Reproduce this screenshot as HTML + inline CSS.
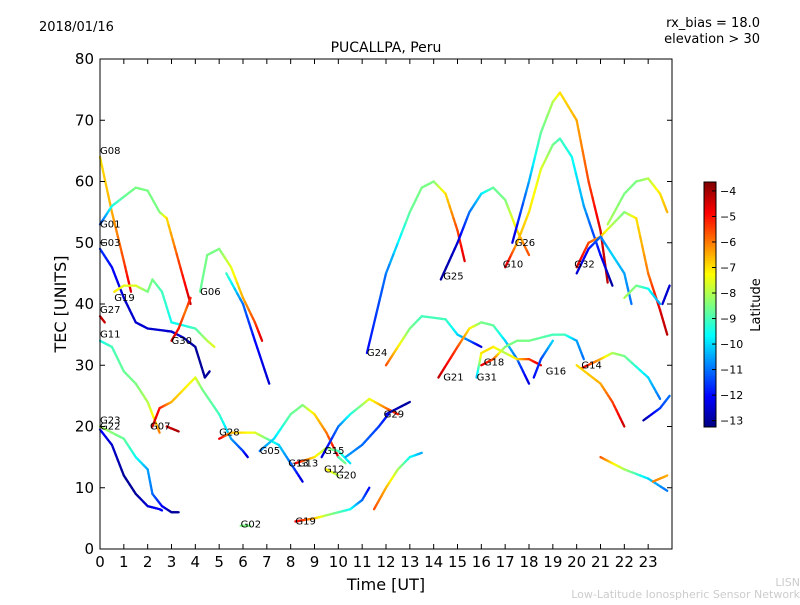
<!DOCTYPE html>
<html><head><meta charset="utf-8"><style>
body{margin:0;background:#fff;font-family:"Liberation Sans",sans-serif}
svg text{font-family:"DejaVu Sans","Liberation Sans",sans-serif}
</style></head><body>
<svg id="c" width="800" height="600" xmlns="http://www.w3.org/2000/svg">
<text x="39" y="31" font-size="13">2018/01/16</text>
<text x="760" y="27" font-size="13" text-anchor="end">rx_bias = 18.0</text>
<text x="760" y="43" font-size="13" text-anchor="end">elevation &gt; 30</text>
<text x="386" y="52" font-size="14" text-anchor="middle">PUCALLPA, Peru</text>
<text x="386" y="590" font-size="16" text-anchor="middle">Time [UT]</text>
<text x="66" y="304" font-size="16" text-anchor="middle" transform="rotate(-90 66 304)">TEC [UNITS]</text>
<text x="800" y="586" font-size="11" fill="#ccc" text-anchor="end">LISN</text>
<text x="800" y="598" font-size="11" fill="#ccc" text-anchor="end">Low-Latitude Ionospheric Sensor Network</text>
<g id="tracks"></g>
<g id="labels"></g>
<rect x="100" y="59" width="572" height="490" fill="none" stroke="#000"/>
<g id="axes"></g>
<g id="cbar"></g>
<text x="760" y="305" font-size="13" text-anchor="middle" transform="rotate(-90 760 305)">Latitude</text>
</svg>
<script>
const xTicks=[0,1,2,3,4,5,6,7,8,9,10,11,12,13,14,15,16,17,18,19,20,21,22,23];
const yTicks=[0,10,20,30,40,50,60,70,80];
const cbTicks=[-13,-12,-11,-10,-9,-8,-7,-6,-5,-4];
const trackNames=["G08","G01","G03","G19","G11","G30","G06","G06b","G22","G23","G07","G07b","G28","G05","G02","G13","G15","G12","G19b","G20","G29","G29b","G15b","G24","G24b","G25","G21","G31","G18","G16","G16b","G26","G10","G32","G32b","G32c","G14","G14b","G14c","G14d","G14e","G14f","G14g","G27"];
const trackT=[[0,0.5,1,1.3],[0,0.5,1,1.5,2,2.5,2.8,3.3,3.8],[0,0.5,1,1.5,2,3,3.5,4,4.4,4.6],[0.6,1,1.5,2,2.2,2.6,3,3.5,4,4.5,4.8],[0,0.5,1,1.5,2,2.3,2.5],[3,3.3,3.6,3.8],[4.2,4.5,5,5.5,6,6.5,6.8],[5.3,6,6.5,7.1],[0,0.5,1,1.5,2,2.5,2.6],[0,1,1.5,2,2.2,2.6,3,3.3],[2.2,2.5,3,3.5,4,4.3,5,5.5,6,6.2],[2.8,3.3],[5,5.5,6.5,7,7.5,8,8.5],[6.7,7.3,8,8.5,9,9.5,10],[5.9,6.3],[8.2,9,9.5,10,10.5],[9.3,10,10.5,11.3,12,12.5],[9.5,10],[8.2,9,9.5,10.5,11,11.3],[10,10.3],[11.5,12,12.5,13,13.5],[12,13],[10.3,11,11.7,12.1],[11.2,12,13,13.5,14,14.5,15,15.3],[12,12.5,13,13.5,14.5,15,15.5,16],[14.3,15,15.5,16,16.5,17,17.5,18],[14.2,15,15.5,16,16.5,17,17.5,18],[15.8,16,16.5,17],[16,16.5,17,17.5,18,19,19.5,20,20.3],[17,17.5,18,18.5],[18.2,18.5,19],[17.3,18,18.5,19,19.3,20,20.5,21,21.3],[17,17.5,18,18.5,19,19.3,19.8,20.3,21,21.5],[20,20.5,21,21.5,22,22.5,23,23.5,23.8],[20,20.5,21,21.5,22,22.3],[21.3,22,22.5,23,23.5,23.8],[20.2,21,21.5,22,23,23.5],[20,21,21.5,22],[22,22.5,23,23.5],[23.6,23.9],[22.8,23.5,23.9],[21,21.5,22,23,23.8],[23.2,23.8],[0,0.2]];
const trackV=[[64,55,47,42],[53,56,57.5,59,58.5,55,54,47,40],[49,46,41,37,36,35.5,34.5,33,28,29],[42,43,43,42,44,42,37,36.5,36,34,33],[34,33,29,27,24,21,19],[34,36,39,41],[42,48,49,46,41,37,34],[45,40,34,27],[19.5,17,12,9,7,6.5,6.3],[20,18,15,13,9,7,6,6],[20,23,24,26,28,26,22,18,16,15],[20,19.2],[18,19,19,18,17,14,11],[16,18,22,23.5,22,19,15],[3.8,3.8],[14,15,16.5,16,14],[15,20,22,24.5,23,22],[13,12],[4.5,5,5.5,6.5,8,10],[15,14],[6.5,10,13,15,15.7],[22,24],[15,17,20,22],[32,45,55,59,60,58,52,47],[30,33,36,38,37.5,35,34,33],[44,50,55,58,59,57,52,48],[28,33,36,37,36.5,34,31,27],[28,32,33,32],[30,31,33,34,34,35,35,34,31],[32,31,31,30],[28,31,34],[50,60,68,73,74.5,70,60,52,43.5],[46,50,55,62,66,67,64,56,48,43],[46,50,51,53,55,54,45,39,35],[45,49,51,48,45,40],[53,58,60,60.5,58,55],[29.5,31,32,31.5,28,24.5],[30,27,24,20],[41,43,42.5,40],[40,43],[21,23,25],[15,14,13,11.5,9.5],[11,12],[38,37]];
const trackLat=[[-7,-6.5,-5.5,-4.5],[-11.5,-9.5,-8.7,-8.5,-8.5,-8.5,-7,-5.5,-4.3],[-11.5,-12,-12.5,-12.5,-12.5,-12.5,-12.5,-13,-13,-13],[-7,-7.5,-7.5,-8.5,-8.5,-9,-9.5,-9.5,-9,-8,-7.5],[-9.5,-9,-8.7,-8.5,-8,-7,-6],[-4.2,-5,-6,-5],[-8.7,-8.5,-8.5,-7.5,-6.5,-5.5,-4.5],[-9,-11,-12,-12.5],[-12,-12.5,-13,-13,-12.5,-12,-12],[-8,-8.7,-9.5,-10.5,-11,-12,-13,-13],[-4.2,-5,-6.5,-7,-7.5,-8.5,-9,-10.5,-11.5,-12.5],[-4.5,-4],[-4.5,-6.5,-7.5,-8.5,-10,-11,-12.5],[-11,-10,-8.7,-8.5,-7,-6,-4.5],[-8.5,-8.5],[-4.5,-7,-8,-9,-10],[-12.5,-11,-9.5,-7.5,-6,-5],[-7,-8],[-4.5,-6.5,-8,-9.5,-11,-12],[-9,-8.5],[-5.5,-6.5,-8,-9.5,-10.5],[-12.5,-13],[-10.5,-11,-11.5,-12],[-12,-11,-8.7,-8.5,-8.5,-7,-5.5,-4.5],[-5.5,-7,-8.5,-9,-9,-10,-11,-12.5],[-13,-12.5,-11,-10,-8.7,-8.5,-7,-5.5],[-4.2,-5.5,-7,-8.5,-8.7,-10,-11,-12.5],[-10.5,-7,-7,-8],[-4.5,-5.5,-8.5,-8.5,-8.5,-9,-9,-10.5,-11],[-8,-7,-5.5,-4.5],[-12,-11.5,-10],[-12.5,-10.5,-8.7,-8,-7,-6.5,-5.5,-4.5,-4.2],[-4.3,-6.5,-7,-7.5,-8.5,-9,-9.5,-10.5,-12,-13],[-4.5,-5.5,-6.5,-8,-8.5,-7,-6,-4.5,-4.2],[-12.5,-12,-11,-10,-10.5,-11],[-8,-8.5,-8.5,-8,-7,-6.5],[-4.5,-6.5,-8,-8.5,-10,-11],[-7,-6.5,-5.5,-4.3],[-8,-8.5,-9.5,-10.5],[-12.5,-12.5],[-13,-11.5,-11],[-5.5,-7,-8,-10,-11],[-6,-6.5],[-4.3,-4.3]];
const labelText=["G08","G01","G03","G19","G27","G11","G30","G06","G23","G22","G07","G28","G05","G02","G13","G13","G15","G12","G20","G19","G24","G29","G21","G25","G31","G18","G16","G10","G26","G32","G14"];
const labelT=[0,0,0,0.6,0,0,3,4.2,0,0,2.1,5,6.7,5.9,7.9,8.3,9.4,9.4,9.9,8.2,11.2,11.9,14.4,14.4,15.8,16.1,18.7,16.9,17.4,19.9,20.2];
const labelV=[64.5,52.5,49.5,40.5,38.5,34.5,33.5,41.5,20.5,19.5,19.5,18.5,15.5,3.5,13.5,13.5,15.5,12.5,11.5,4,31.5,21.5,27.5,44,27.5,30,28.5,46,49.5,46,29.5];
const NS="http://www.w3.org/2000/svg";
const X0=100,X1=672,Y0=549,Y1=59;
const xs=t=>X0+t/24*(X1-X0), ys=v=>Y0-v/80*(Y0-Y1);
const cMin=-13.25,cMax=-3.65,CB0=427,CB1=182;
const cs=v=>CB0-(v-cMin)/(cMax-cMin)*(CB0-CB1);
function jet(v){let f=Math.max(0,Math.min(1,(v-cMin)/(cMax-cMin)));
 const cl=x=>Math.round(255*Math.max(0,Math.min(1,x)));
 return `rgb(${cl(1.5-Math.abs(4*f-3))},${cl(1.5-Math.abs(4*f-2))},${cl(1.5-Math.abs(4*f-1))})`;}
function mk(tag,attrs,parent){const e=document.createElementNS(NS,tag);for(const k in attrs)e.setAttribute(k,attrs[k]);parent.appendChild(e);return e;}
const tg=document.getElementById('tracks');
trackT.forEach((ts,i)=>{const g=mk('g',{},tg);
 
 
 const vs=trackV[i],ls=trackLat[i];
 for(let j=0;j<ts.length-1;j++){const n=6;
  for(let k=0;k<n;k++){const a=k/n,b=(k+1)/n;
   const t1=ts[j]+(ts[j+1]-ts[j])*a,t2=ts[j]+(ts[j+1]-ts[j])*b;
   const v1=vs[j]+(vs[j+1]-vs[j])*a,v2=vs[j]+(vs[j+1]-vs[j])*b;
   const l=ls[j]+(ls[j+1]-ls[j])*(a+b)/2;
   mk('line',{x1:xs(t1),y1:ys(v1),x2:xs(t2),y2:ys(v2),stroke:jet(l),'stroke-width':2.3,'stroke-linecap':'round'},g);}}
});
const lg=document.getElementById('labels');
labelText.forEach((s,i)=>{const e=mk('text',{x:xs(labelT[i]),y:ys(labelV[i]),'font-size':10},lg);e.textContent=s;
 
 });
const ax=document.getElementById('axes');
xTicks.forEach(t=>{const x=xs(t);
 mk('line',{x1:x,y1:Y0,x2:x,y2:Y0-5,stroke:'#000'},ax);mk('line',{x1:x,y1:Y1,x2:x,y2:Y1+5,stroke:'#000'},ax);
 const e=mk('text',{x:x,y:Y0+18,'font-size':15,'text-anchor':'middle'},ax);e.textContent=t;
 
 });
yTicks.forEach(v=>{const y=ys(v);
 mk('line',{x1:X0,y1:y,x2:X0+5,y2:y,stroke:'#000'},ax);mk('line',{x1:X1,y1:y,x2:X1-5,y2:y,stroke:'#000'},ax);
 const e=mk('text',{x:X0-6,y:y+5,'font-size':15,'text-anchor':'end'},ax);e.textContent=v;
 
 });
const cb=document.getElementById('cbar');
for(let i=0;i<100;i++){const v1=cMin+(cMax-cMin)*i/100,v2=cMin+(cMax-cMin)*(i+1)/100;
 mk('rect',{x:704,y:cs(v2),width:12,height:cs(v1)-cs(v2)+0.5,fill:jet((v1+v2)/2)},cb);}
const fr=mk('rect',{x:704,y:CB1,width:12,height:CB0-CB1,fill:'none',stroke:'#000'},cb);


cbTicks.forEach(v=>{const y=cs(v);mk('line',{x1:712,y1:y,x2:716,y2:y,stroke:'#000'},cb);
 const e=mk('text',{x:720,y:y+4,'font-size':11},cb);e.textContent='\u2212'+Math.abs(v);
 
 });
</script>
</body></html>
